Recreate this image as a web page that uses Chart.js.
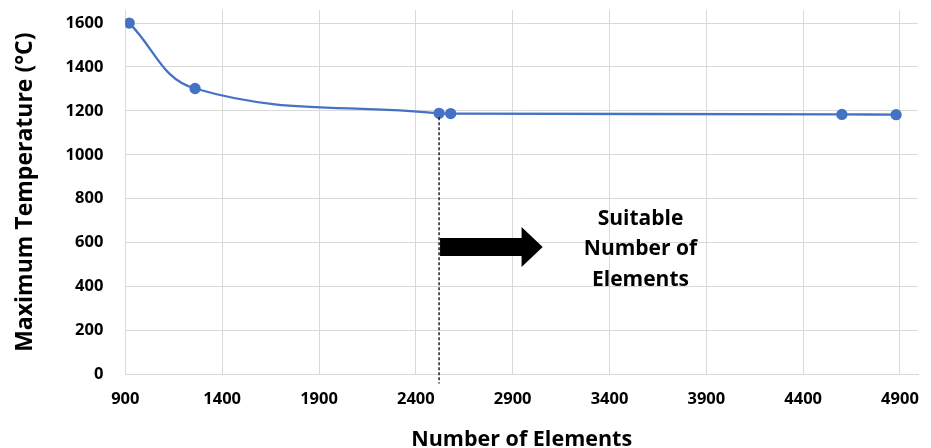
<!DOCTYPE html>
<html>
<head>
<meta charset="utf-8">
<script src="https://cdn.jsdelivr.net/npm/chart.js@4/dist/chart.umd.min.js"></script>
<style>
  html, body { margin: 0; padding: 0; background: #ffffff; }
  #wrap { width: 931px; height: 448px; position: relative; }
</style>
</head>
<body>
<div id="wrap"><canvas id="c" width="931" height="448"></canvas></div>
<script>
// ---- data ----
const elements = [920, 1260, 2520, 2580, 4600, 4880];
const maxTemps = [1600, 1302, 1189, 1188, 1184, 1183];
const xTicks = [900, 1400, 1900, 2400, 2900, 3400, 3900, 4400, 4900];
const yTicks = [0, 200, 400, 600, 800, 1000, 1200, 1400, 1600];
const suitableIndex = 2;               // point marked by the dashed line
const noteLines = ['Suitable', 'Number of', 'Elements'];

const FONT = '"Open Sans", "Liberation Sans", sans-serif';
const BLUE = '#4472C4';
const GRID = '#d9d9d9';

const annotationPlugin = {
  id: 'suitableNote',
  afterDatasetsDraw(chart) {
    const { ctx, scales: { x, y }, chartArea } = chart;
    ctx.save();
    const px = x.getPixelForValue(elements[suitableIndex]);
    const py = y.getPixelForValue(maxTemps[suitableIndex]);
    ctx.beginPath();
    ctx.setLineDash([3, 2]);
    ctx.strokeStyle = '#000';
    ctx.lineWidth = 1.3;
    ctx.moveTo(px, py + 4);
    ctx.lineTo(px, chartArea.bottom + 9);
    ctx.stroke();
    ctx.setLineDash([]);

    const x0 = x.getPixelForValue(2525);
    const xh = x.getPixelForValue(2946);
    const xt = x.getPixelForValue(3055);
    const yc = y.getPixelForValue(580);
    const bodyHalf = 9, headHalf = 20;
    ctx.beginPath();
    ctx.moveTo(x0, yc - bodyHalf);
    ctx.lineTo(xh, yc - bodyHalf);
    ctx.lineTo(xh, yc - headHalf);
    ctx.lineTo(xt, yc);
    ctx.lineTo(xh, yc + headHalf);
    ctx.lineTo(xh, yc + bodyHalf);
    ctx.lineTo(x0, yc + bodyHalf);
    ctx.closePath();
    ctx.fillStyle = '#000';
    ctx.fill();

    ctx.font = 'bold 21px ' + FONT;
    ctx.textAlign = 'center';
    ctx.textBaseline = 'middle';
    const tx = x.getPixelForValue(3560);
    const ty0 = y.getPixelForValue(709);
    noteLines.forEach((t, i) => ctx.fillText(t, tx, ty0 + i * 30.5));
    ctx.restore();
  }
};

new Chart(document.getElementById('c'), {
  type: 'line',
  data: {
    datasets: [{
      data: elements.map((e, i) => ({ x: e, y: maxTemps[i] })),
      borderColor: BLUE,
      backgroundColor: BLUE,
      borderWidth: 2.3,
      pointRadius: 4.5,
      pointHoverRadius: 4.5,
      pointBackgroundColor: BLUE,
      pointBorderColor: BLUE,
      tension: 0.4,
      fill: false
    }]
  },
  options: {
    responsive: false,
    animation: false,
    layout: { padding: { left: 12, right: 13, top: 0, bottom: -5 } },
    plugins: { legend: { display: false }, tooltip: { enabled: false } },
    scales: {
      x: {
        type: 'linear',
        min: 900,
        max: 4993,
        afterBuildTicks: (axis) => { axis.ticks = xTicks.map(v => ({ value: v })); },
        grid: { color: GRID, lineWidth: 1, drawTicks: true, tickLength: 15, tickColor: 'rgba(0,0,0,0)' },
        border: { display: true, color: GRID },
        ticks: {
          color: '#000',
          padding: 0,
          maxRotation: 0,
          font: { family: FONT, weight: 'bold', size: 16.5 },
          callback: (v) => String(v)
        },
        title: {
          display: true,
          text: 'Number of Elements',
          color: '#000',
          padding: { top: 18, bottom: 0 },
          font: { family: FONT, weight: 'bold', size: 21.5 }
        }
      },
      y: {
        min: 0,
        max: 1660,
        afterBuildTicks: (axis) => { axis.ticks = yTicks.map(v => ({ value: v })); },
        grid: { color: GRID, lineWidth: 1, drawTicks: true, tickLength: 22, tickColor: 'rgba(0,0,0,0)' },
        border: { display: false },
        ticks: {
          color: '#000',
          padding: 0,
          font: { family: FONT, weight: 'bold', size: 16.5 },
          callback: (v) => String(v)
        },
        title: {
          display: true,
          text: 'Maximum Temperature (°C)',
          color: '#000',
          padding: { top: 0, bottom: 26 },
          font: { family: FONT, weight: 'bold', size: 23 }
        }
      }
    }
  },
  plugins: [annotationPlugin]
});
</script>
</body>
</html>
